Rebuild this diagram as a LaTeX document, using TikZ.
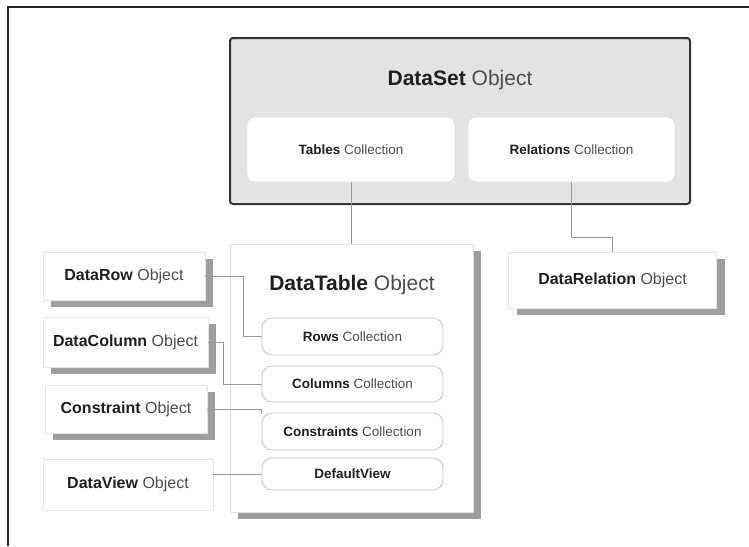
\documentclass[tikz,border=0pt]{standalone}
\usepackage{fontspec}
\setmainfont{Liberation Sans}
\usepackage{tikz}
\usetikzlibrary{shapes,positioning,shadows,calc}

\tikzset{
  setbox/.style={draw=black!80,line width=2pt,fill=black!11,rounded corners=3pt},
  collbox/.style={draw=black!12,fill=white,rounded corners=8pt,line width=0.8pt,
    font=\fontsize{13.5}{16}\selectfont,text=black!70},
  tablebox/.style={draw=black!12,fill=white,line width=0.8pt,
    drop shadow={shadow xshift=8pt,shadow yshift=-7pt,fill=black!38,opacity=1}},
  objbox/.style={draw=black!10,fill=white,line width=0.8pt,
    font=\fontsize{16}{19}\selectfont,text=black!70,
    drop shadow={shadow xshift=8pt,shadow yshift=-7pt,fill=black!38,opacity=1}},
  flatbox/.style={draw=black!10,fill=white,line width=0.8pt,
    font=\fontsize{16}{19}\selectfont,text=black!70},
  title/.style={font=\fontsize{21}{24}\selectfont,text=black!70},
  link/.style={draw=black!40,line width=0.7pt}
}
\newcommand{\bname}[1]{\textbf{\color{black!88}#1}}

\begin{document}
\begin{tikzpicture}[x=1pt,y=-1pt]
\useasboundingbox (0,0) rectangle (749,546);

% frame
\draw[line width=1.5pt,black!85] (8,546) |- (749,7);

% DataSet
\node[setbox,minimum width=460,minimum height=166] (dataset) at (460,121) {};
\node[title] (settitle) at (460,80) {\bname{DataSet} Object};
\node[collbox,minimum width=208,minimum height=65] (tables) at (351,149.5) {\bname{Tables} Collection};
\node[collbox,minimum width=207,minimum height=65] (relations) at (571.5,149.5) {\bname{Relations} Collection};

% DataTable
\node[tablebox,minimum width=243,minimum height=268] (datatable) at (351.5,378) {};
\node[title] (tabletitle) at (352,285) {\bname{DataTable} Object};
\node[collbox,rounded corners=10pt,draw=black!22,minimum width=181,minimum height=37] (rows) at (352.5,336.5) {\bname{Rows} Collection};
\node[collbox,rounded corners=10pt,draw=black!22,minimum width=181,minimum height=36] (columns) at (352.5,384) {\bname{Columns} Collection};
\node[collbox,rounded corners=10pt,draw=black!22,minimum width=181,minimum height=37] (constraints) at (352.5,431.5) {\bname{Constraints} Collection};
\node[collbox,rounded corners=10pt,draw=black!22,minimum width=181,minimum height=32] (defaultview) at (352.5,474) {\bname{DefaultView}};

% objects
\node[objbox,minimum width=162,minimum height=48] (datarow) at (124,276) {\bname{DataRow} Object};
\node[objbox,minimum width=165,minimum height=50] (datacolumn) at (125.5,342) {\bname{DataColumn} Object};
\node[objbox,minimum width=162,minimum height=48] (constraint) at (126,409) {\bname{Constraint} Object};
\node[flatbox,minimum width=170,minimum height=51] (dataview) at (128,484.5) {\bname{DataView} Object};
\node[objbox,minimum width=208,minimum height=56] (datarelation) at (612.5,280) {\bname{DataRelation} Object};

% links
\draw[link] (tables.south) -- (tables.south |- datatable.north);
\draw[link] (relations.south) -- ++(0,55) -| (datarelation.north);
\draw[link] (datarow.east) -- ++(38,0) |- (rows.west);
\draw[link] (datacolumn.east) -- ++(15,0) |- (columns.west);
\draw[link] (constraint.east) -| (constraints.north west);
\draw[link] (defaultview.west) -- (defaultview.west -| dataview.east);

\end{tikzpicture}
\end{document}
